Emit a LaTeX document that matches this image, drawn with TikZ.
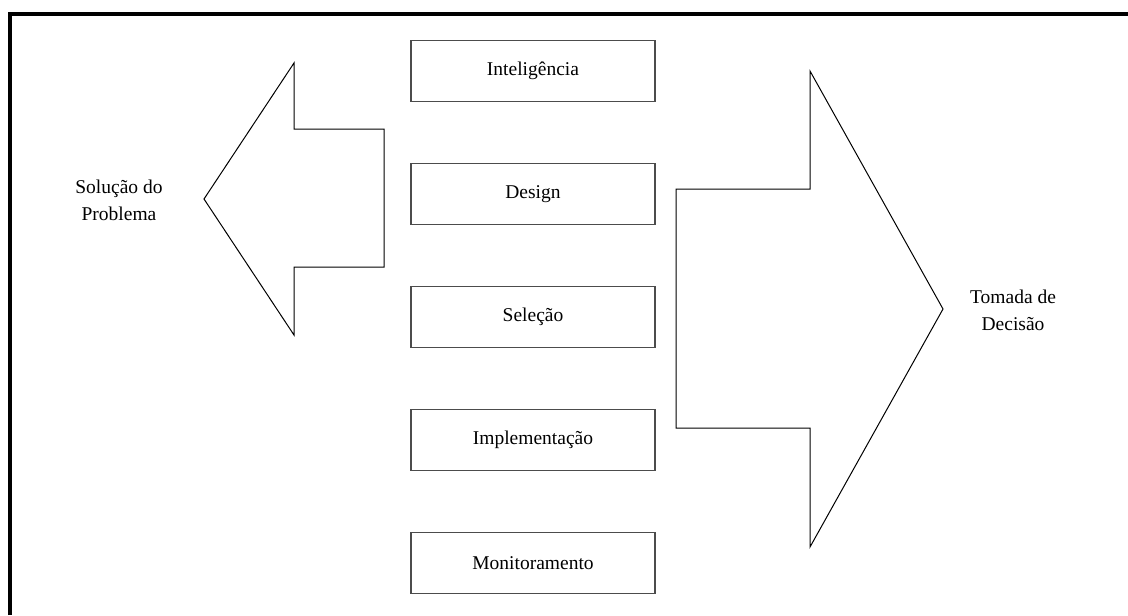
\documentclass[tikz,border=0pt]{standalone}
\usepackage{fontspec}
\setmainfont{Liberation Serif}
\usepackage{tikz}
\usetikzlibrary{positioning}

\begin{document}
\begin{tikzpicture}[x=0.5pt, y=-0.5pt,
  stage/.style={draw=black!70, line width=0.8pt, minimum width=122pt, minimum height=30.5pt, inner sep=0pt, font=\fontsize{9.75}{13.5}\selectfont},
  sidetext/.style={align=center, inner sep=0pt, font=\fontsize{9.75}{13.5}\selectfont},
  bigarrow/.style={draw=black, line width=0.5pt, line join=miter}]
  \useasboundingbox (0,0) rectangle (1128,615);

  % Outer frame
  \draw[line width=2pt] (10,615) -- (10,14) -- (1128,14);

  % The stages
  \node[stage] (intel) at (533,71) {Inteligência};
  \node[stage] (design) at (533,194) {Design};
  \node[stage] (selecao) at (533,317) {Seleção};
  \node[stage] (implem) at (533,440) {Implementação};
  \node[stage] (monit) at (533,563) {Monitoramento};

  % Left arrow
  \draw[bigarrow] (204,199) -- (294,63) -- (294,129) -- (384,129) -- (384,267) -- (294,267) -- (294,335) -- cycle;
  \node[sidetext] (solucao) at (119,200) {Solução do\\Problema};

  % Right arrow
  \draw[bigarrow] (943,309) -- (810,71) -- (810,189) -- (676,189) -- (676,428) -- (810,428) -- (810,547) -- cycle;
  \node[sidetext] (decisao) at (1013,310) {Tomada de\\Decisão};
\end{tikzpicture}
\end{document}
